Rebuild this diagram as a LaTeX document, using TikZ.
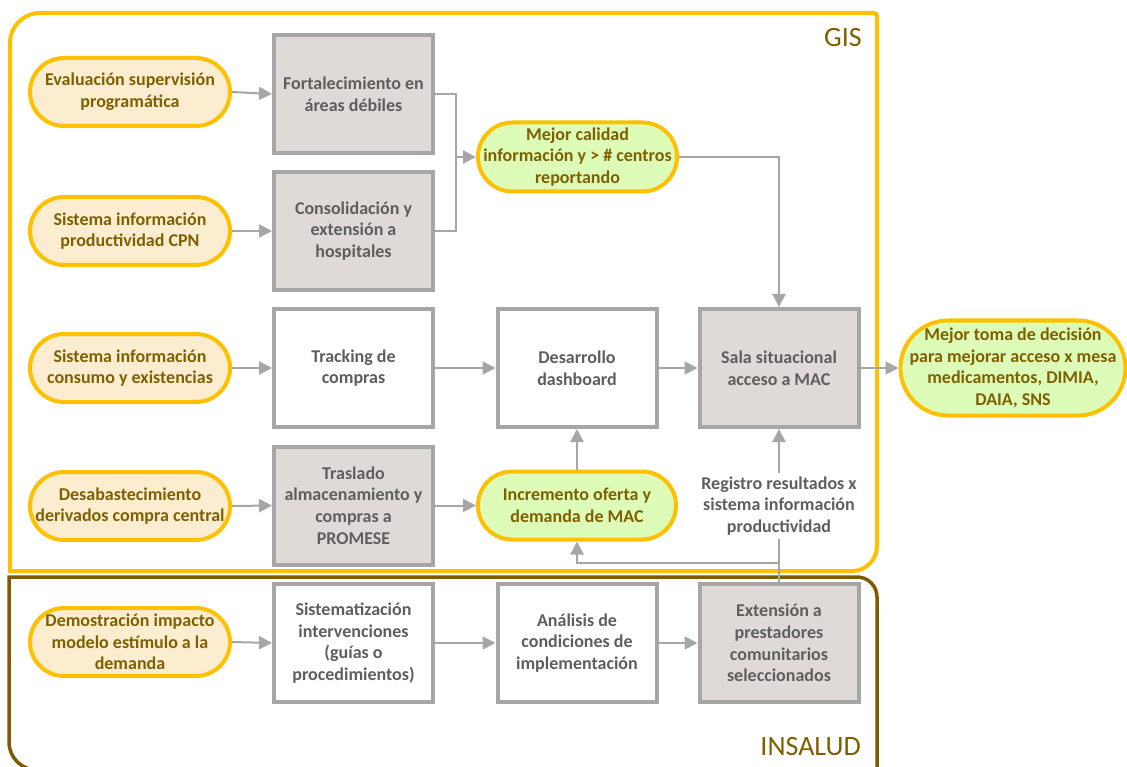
\documentclass[tikz,border=0pt]{standalone}
\usepackage{fontspec}
\setmainfont{Carlito}
\usetikzlibrary{shapes.misc,arrows.meta}
\definecolor{gisY}{HTML}{FFC000}
\definecolor{insB}{HTML}{7F5A00}
\definecolor{ovTan}{HTML}{FCEDD1}
\definecolor{ovGreen}{HTML}{DCFCB8}
\definecolor{txtBrown}{HTML}{7F6000}
\definecolor{boxGray}{HTML}{DFDAD7}
\definecolor{lineGray}{HTML}{A6A6A6}
\definecolor{txtGray}{HTML}{5E5E5E}
\begin{document}
\begin{tikzpicture}[x=1pt,y=-1pt,
  txt/.style={font=\bfseries\fontsize{18}{21.6}\selectfont, align=center},
  ovaltxt/.style={txt, text=txtBrown, inner sep=0pt},
  oval/.style={rounded rectangle, draw=gisY, line width=4pt,
    minimum width=200pt, minimum height=68pt, inner sep=0pt,
    label={[ovaltxt]center:{#1}}},
  tanoval/.style={oval={#1}, fill=ovTan},
  greenoval/.style={oval={#1}, fill=ovGreen},
  stepbox/.style={txt, rectangle, draw=lineGray, line width=4pt, text=txtGray,
    minimum width=159pt, minimum height=118pt, inner sep=0pt},
  graybox/.style={stepbox, fill=boxGray},
  whitebox/.style={stepbox, fill=white},
  plain/.style={draw=lineGray, line width=2pt},
  conn/.style={plain, -{Triangle[length=13pt,width=13pt]}},
  framelabel/.style={font=\fontsize{28}{28}\selectfont, text=txtBrown, anchor=base east, inner sep=0pt}
]
\useasboundingbox (0,0) rectangle (1127,767);
\clip (0,0) rectangle (1127,767);

% frames
\draw[gisY, line width=4pt] (10,571) -- (10,43) arc[start angle=180,end angle=270,radius=30]
  -- (874,13) arc[start angle=270,end angle=360,radius=3]
  -- (877,546) arc[start angle=0,end angle=90,radius=25] -- cycle;
\draw[insB, line width=3.5pt] (9,577) -- (857,577) arc[start angle=270,end angle=360,radius=20]
  -- (877,770) -- (37,770) arc[start angle=90,end angle=180,radius=28] -- cycle;
\node[framelabel] (gis) at (862,47) {GIS};
\node[framelabel] (insalud) at (861,755) {INSALUD};

% left ovals
\node[tanoval={Evaluación supervisión\\programática}] (o1) at (130,92) {};
\node[tanoval={Sistema información\\productividad CPN}] (o2) at (130,231) {};
\node[tanoval={Sistema información\\consumo y existencias}] (o3) at (130,368) {};
\node[tanoval={Desabastecimiento\\derivados compra central}] (o4) at (130,506) {};
\node[tanoval={Demostración impacto\\modelo estímulo a la\\demanda}] (o5) at (130,642) {};

% column 2
\node[graybox] (fort) at (353.5,94) {Fortalecimiento en\\áreas débiles};
\node[graybox] (cons) at (353.5,231) {Consolidación y\\extensión a\\hospitales};
\node[whitebox] (track) at (353.5,368) {Tracking de\\compras};
\node[graybox] (tras) at (353.5,505.5) {Traslado\\almacenamiento y\\compras a\\PROMESE};
\node[whitebox] (sist) at (353.5,643) {Sistematización\\intervenciones\\(guías o\\procedimientos)};

% column 3
\node[greenoval={Mejor calidad\\información y > \# centros\\reportando}, minimum width=199pt, minimum height=69pt] (mejor) at (577.5,157) {};
\node[whitebox] (dash) at (577,368) {Desarrollo\\dashboard};
\node[greenoval={Incremento oferta y\\demanda de MAC}, minimum width=198pt] (inc) at (577,505.5) {};
\node[whitebox] (anal) at (577,643) {Análisis de\\condiciones de\\implementación};

% column 4
\node[graybox] (sala) at (779,368) {Sala situacional\\acceso a MAC};
\node[txt, text=txtGray, inner sep=3pt] (reg) at (779,506) {Registro resultados x\\sistema información\\productividad};
\node[graybox] (ext) at (779,643) {Extensión a\\prestadores\\comunitarios\\seleccionados};

% right oval
\node[greenoval={Mejor toma de decisión\\para mejorar acceso x mesa\\medicamentos, DIMIA,\\DAIA, SNS}, minimum width=225pt, minimum height=95pt] (toma) at (1013,368) {};

% connectors
\draw[conn] (o1.east) -- (fort.west);
\draw[conn] (o2.east) -- (cons.west);
\draw[conn] (o3.east) -- (track.west);
\draw[conn] (o4.east) -- (tras.west);
\draw[conn] (o5.east) -- (sist.west);

\coordinate (j1) at (456,157);
\draw[plain] (fort.east) -| (j1);
\draw[plain] (cons.east) -| (j1);
\draw[conn] (j1) -- (mejor.west);
\draw[conn] (mejor.east) -| (sala.north);

\draw[conn] (track.east) -- (dash.west);
\draw[conn] (dash.east) -- (sala.west);
\draw[conn] (sala.east) -- (toma.west);
\draw[conn] (tras.east) -- (inc.west);
\draw[conn] (inc.north) -- (dash.south);
\draw[conn] (reg.north) -- (sala.south);

\coordinate (j2) at (779,563);
\draw[plain] (ext.north) -- (reg.south);
\draw[conn] (j2) -| (inc.south);

\draw[conn] (sist.east) -- (anal.west);
\draw[conn] (anal.east) -- (ext.west);
\end{tikzpicture}
\end{document}
